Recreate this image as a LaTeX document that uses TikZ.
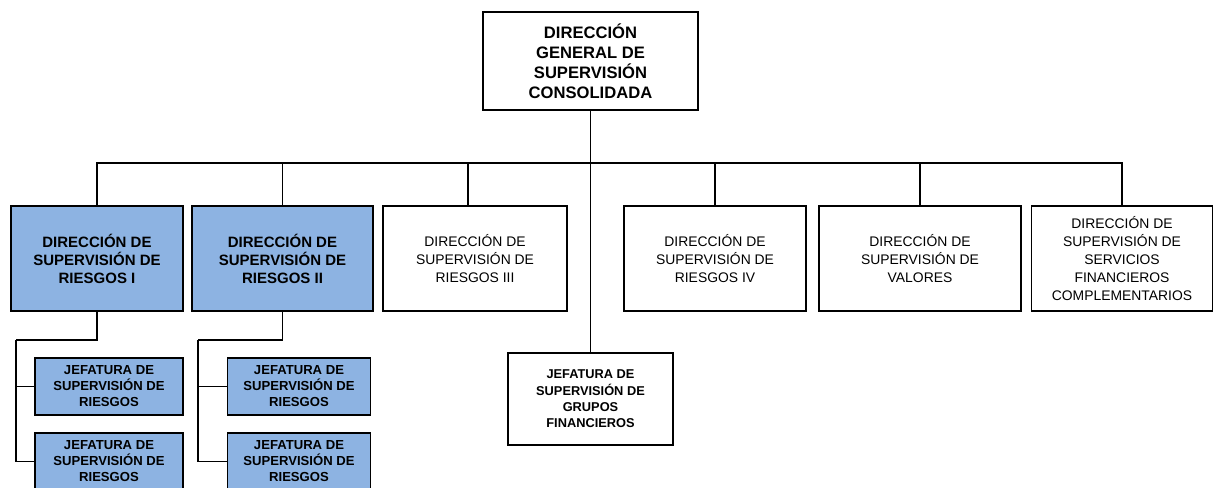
\documentclass[tikz,border=0pt]{standalone}
\usepackage{fontspec}
\setmainfont{Liberation Sans}
\usetikzlibrary{positioning, calc}
\definecolor{azul}{HTML}{8DB3E2}
\tikzset{
  cabeza/.style    = {draw, line width=1.9pt, fill=white,
                      minimum width=215pt, minimum height=98pt,
                      font=\fontsize{16.6}{20}\selectfont\bfseries, align=center, inner sep=2pt},
  dirazul/.style   = {draw, line width=1.9pt, fill=azul,
                      minimum height=105pt,
                      font=\fontsize{15}{18}\selectfont\bfseries, align=center, inner sep=2pt},
  dirblanca/.style = {draw, line width=1.9pt, fill=white,
                      minimum height=105pt,
                      font=\fontsize{13.9}{18}\selectfont, align=center, inner sep=2pt},
  jefazul/.style   = {draw, line width=1.6pt, fill=azul,
                      minimum height=57pt,
                      font=\fontsize{13.1}{16}\selectfont\bfseries, align=center, inner sep=2pt},
  jefblanca/.style = {draw, line width=1.6pt, fill=white,
                      minimum height=92pt,
                      font=\fontsize{12.8}{16.3}\selectfont\bfseries, align=center, inner sep=2pt},
  rama/.style      = {line width=1.7pt},
}
\begin{document}
\begin{tikzpicture}[x=1pt, y=-1pt]
    \useasboundingbox (0,0) rectangle (1214,487);
    \clip (0,0) rectangle (1214,487);

    % nivel 1
    \node[cabeza] (dg) at (590.5,61) {DIRECCIÓN\\GENERAL DE\\SUPERVISIÓN\\CONSOLIDADA};
    \coordinate (bus) at (590.5,163);

    % nivel 2 : direcciones
    \node[dirazul,   minimum width=172pt] (d1) at (97,258.5)   {DIRECCIÓN DE\\SUPERVISIÓN DE\\RIESGOS I};
    \node[dirazul,   minimum width=181pt] (d2) at (282.5,258.5) {DIRECCIÓN DE\\SUPERVISIÓN DE\\RIESGOS II};
    \node[dirblanca, minimum width=184pt] (d3) at (475,258.5)  {DIRECCIÓN DE\\SUPERVISIÓN DE\\RIESGOS III};
    \node[dirblanca, minimum width=182pt] (d4) at (715,258.5)  {DIRECCIÓN DE\\SUPERVISIÓN DE\\RIESGOS IV};
    \node[dirblanca, minimum width=202pt] (d5) at (920,258.5)  {DIRECCIÓN DE\\SUPERVISIÓN DE\\VALORES};
    \node[dirblanca, minimum width=181pt] (d6) at (1122,258.5) {DIRECCIÓN DE\\SUPERVISIÓN DE\\SERVICIOS\\FINANCIEROS\\COMPLEMENTARIOS};

    % jefatura de grupos (directa)
    \node[jefblanca, minimum width=165pt] (grp) at (590.5,399) {JEFATURA DE\\SUPERVISIÓN DE\\GRUPOS\\FINANCIEROS};

    % nivel 3 : jefaturas de riesgos
    \node[jefazul, minimum width=148pt] (j11) at (109,386.5)   {JEFATURA DE\\SUPERVISIÓN DE\\RIESGOS};
    \node[jefazul, minimum width=148pt] (j12) at (109,461.5)   {JEFATURA DE\\SUPERVISIÓN DE\\RIESGOS};
    \node[jefazul, minimum width=143pt] (j21) at (299,386.5)   {JEFATURA DE\\SUPERVISIÓN DE\\RIESGOS};
    \node[jefazul, minimum width=143pt] (j22) at (299,461.5)   {JEFATURA DE\\SUPERVISIÓN DE\\RIESGOS};
    \coordinate (k1) at (16,340);
    \coordinate (k2) at (198,340);

    \draw[rama] (dg.south) -- (bus);
    \foreach \n in {d1,d2,d4,d5,d6}
      \draw[rama] (bus) -| (\n.north);
    \draw[rama] (bus) -| ([xshift=-7pt]d3.north);
    \draw[rama] (bus) -- (grp.north);

    \draw[rama] (d1.south) |- (k1);
    \draw[rama] (k1) |- (j11.west);
    \draw[rama] (k1) |- (j12.west);
    \draw[rama] (d2.south) |- (k2);
    \draw[rama] (k2) |- (j21.west);
    \draw[rama] (k2) |- (j22.west);
\end{tikzpicture}
\end{document}
